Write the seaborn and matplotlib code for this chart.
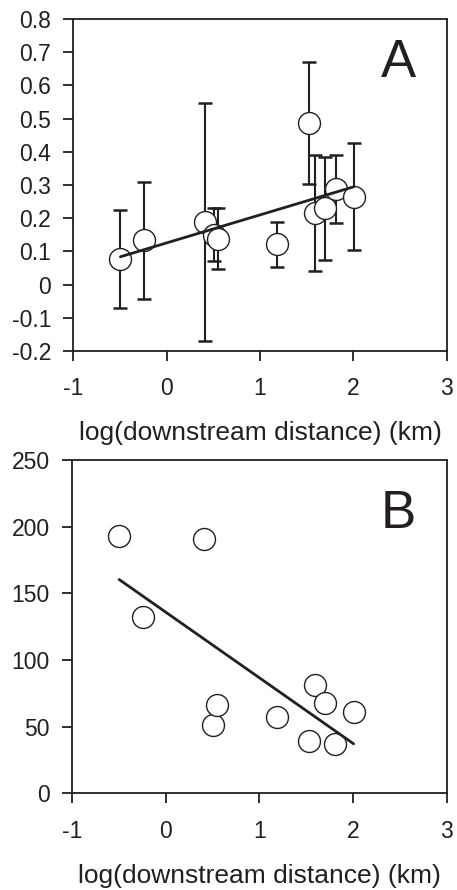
import numpy as np
import pandas as pd
import matplotlib
matplotlib.use("Agg")
import matplotlib.pyplot as plt
import seaborn as sns

# ---- data ----
log_dist = [-0.495, -0.242, 0.406, 0.505, 0.545, 1.187, 1.525, 1.591, 1.700, 1.810, 2.005]
a_mean   = [0.077, 0.134, 0.190, 0.150, 0.138, 0.121, 0.486, 0.215, 0.230, 0.289, 0.265]
a_upper  = [0.225, 0.309, 0.546, 0.230, 0.230, 0.190, 0.671, 0.389, 0.385, 0.389, 0.425]
a_lower  = [-0.071, -0.043, -0.169, 0.071, 0.047, 0.054, 0.302, 0.042, 0.074, 0.185, 0.104]
b_value  = [193, 132, 191, 51, 66, 57, 39, 81, 67.5, 37, 61]

fit_a = [0.0843, 0.1256]   # slope, intercept
fit_b = [-49.3, 136.0]

x_ticks = [-1, 0, 1, 2, 3]
a_ticks = [-0.2, -0.1, 0, 0.1, 0.2, 0.3, 0.4, 0.5, 0.6, 0.7, 0.8]
a_ticklabels = ["-0.2", "-0.1", "0", "0.1", "0.2", "0.3", "0.4", "0.5", "0.6", "0.7", "0.8"]
b_ticks = [0, 50, 100, 150, 200, 250]
xlabel = "log(downstream distance) (km)"

# ---- style ----
sns.set_style("ticks")
plt.rcParams["font.family"] = ["Liberation Sans", "DejaVu Sans"]
INK = "#231f20"

df = pd.DataFrame({"x": log_dist, "a": a_mean, "up": a_upper, "lo": a_lower, "b": b_value})
xl = np.array([min(log_dist), max(log_dist)])
lines = pd.DataFrame({"x": xl,
                      "a": fit_a[0] * xl + fit_a[1],
                      "b": fit_b[0] * xl + fit_b[1]})

fig = plt.figure(figsize=(4.57, 8.90), dpi=100)
axA = fig.add_axes([0.1604, 0.6056, 0.8171, 0.3731])
axB = fig.add_axes([0.1570, 0.1086, 0.8210, 0.3745])


def style_axis(ax):
    for s in ax.spines.values():
        s.set_visible(True)
        s.set_linewidth(1.3)
        s.set_color(INK)
    ax.tick_params(axis="both", direction="out", length=7, width=1.3,
                   colors=INK, labelsize=16.5, labelcolor=INK)
    ax.tick_params(axis="y", pad=9)
    ax.tick_params(axis="x", pad=12)
    ax.set_xlim(-1, 3)
    ax.set_xticks(x_ticks)
    ax.set_xticklabels([str(t) for t in x_ticks])
    ax.set_xlabel(xlabel, fontsize=19, color=INK, labelpad=15)
    ax.set_ylabel("")


# Panel A
yerr = np.vstack([df["a"] - df["lo"], df["up"] - df["a"]])
axA.errorbar(df["x"], df["a"], yerr=yerr, fmt="none", ecolor=INK,
             elinewidth=1.5, capsize=5, capthick=1.8, zorder=1)
sns.scatterplot(data=df, x="x", y="a", ax=axA, s=250, marker="o",
                facecolor="white", edgecolor=INK, linewidth=1.0, zorder=2)
sns.lineplot(data=lines, x="x", y="a", ax=axA, color=INK, linewidth=2.0, zorder=3)
axA.set_ylim(-0.2, 0.8)
axA.set_yticks(a_ticks)
axA.set_yticklabels(a_ticklabels)
style_axis(axA)
axA.text(2.48, 0.667, "A", fontsize=38, color=INK, ha="center", va="center")

# Panel B
sns.scatterplot(data=df, x="x", y="b", ax=axB, s=250, marker="o",
                facecolor="white", edgecolor=INK, linewidth=1.0, zorder=2)
sns.lineplot(data=lines, x="x", y="b", ax=axB, color=INK, linewidth=2.0, zorder=3)
axB.set_ylim(0, 250)
axB.set_yticks(b_ticks)
axB.set_yticklabels([str(t) for t in b_ticks])
style_axis(axB)
axB.text(2.48, 209.5, "B", fontsize=38, color=INK, ha="center", va="center")

fig.savefig("out.png", dpi=100)
